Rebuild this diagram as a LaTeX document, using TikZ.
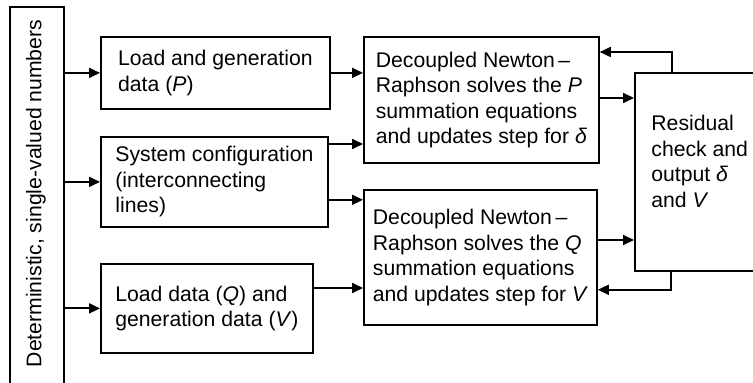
\documentclass[tikz,border=0pt]{standalone}
\usepackage{fontspec}
\setmainfont{Liberation Sans}
\usetikzlibrary{arrows.meta,calc}
\begin{document}
\begin{tikzpicture}[x=0.5pt,y=-0.5pt,
  font=\fontsize{10.6}{12.75}\selectfont,
  bx/.style={draw, line width=0.9pt, align=left, anchor=north west, inner sep=0pt},
  arr/.style={line width=0.9pt, -{Triangle[length=5.5pt,width=5pt]}}]
\useasboundingbox (0,0) rectangle (753,383);
% source box
\node[bx, minimum width=27pt, minimum height=195pt] (src) at (9,6) {};
\node[rotate=90, inner sep=0pt] (srct) at (36,193.5) {Deterministic, single-valued numbers};
% input boxes
\node[bx, minimum width=114.5pt, minimum height=36pt] (b1) at (100,36) {Load and generation\\data (\textit{P})};
\node[bx, minimum width=113.5pt, minimum height=45pt] (b2) at (100,136) {System configuration\\(interconnecting\\lines)};
\node[bx, minimum width=106pt, minimum height=44.5pt] (b3) at (100,263) {Load data (\textit{Q}) and\\generation data (\textit{V})};
% solver boxes
\node[bx, minimum width=117.5pt, minimum height=63pt] (P) at (363,36) {Decoupled Newton\,--\\Raphson solves the \textit{P}\\summation equations\\and updates step for \textit{δ}};
\node[bx, minimum width=116.5pt, minimum height=67.5pt] (Q) at (363,189) {Decoupled Newton\,--\\Raphson solves the \textit{Q}\\summation equations\\and updates step for \textit{V}};
% residual box
\node[bx, minimum width=63pt, minimum height=99pt] (R) at (634,72) {};
\node[anchor=north west, inner sep=0pt, align=left] (Rt) at (651,115) {Residual\\check and\\output \textit{δ}\\and \textit{V}};
% connectors from source
\draw[arr] (src.east |- b1.west) -- (b1.west);
\draw[arr] (src.east |- b2.west) -- (b2.west);
\draw[arr] (src.east |- b3.west) -- (b3.west);
% into solvers
\draw[arr] (b1.east) -- (b1.east -| P.west);
\coordinate (b2a) at ($(b2.north east)+(0,8)$);
\coordinate (b2b) at ($(b2.south east)+(0,-28)$);
\coordinate (b3a) at ($(b3.north east)+(0,25)$);
\draw[arr] (b2a) -- (b2a -| P.west);
\draw[arr] (b2b) -- (b2b -| Q.west);
\draw[arr] (b3a) -- (b3a -| Q.west);
% into residual
\coordinate (pa) at ($(P.north east)+(0,62)$);
\coordinate (qa) at ($(Q.north east)+(0,51)$);
\draw[arr] (pa) -- (pa -| R.west);
\draw[arr] (qa) -- (qa -| R.west);
% feedback
\coordinate (fa) at ($(R.north west)+(38,0)$);
\coordinate (pb) at ($(P.north east)+(0,16)$);
\coordinate (fb) at ($(R.south west)+(37,0)$);
\coordinate (qb) at ($(Q.south east)+(0,-36)$);
\draw[arr] (fa) |- (pb);
\draw[arr] (fb) |- (qb);
\end{tikzpicture}
\end{document}
